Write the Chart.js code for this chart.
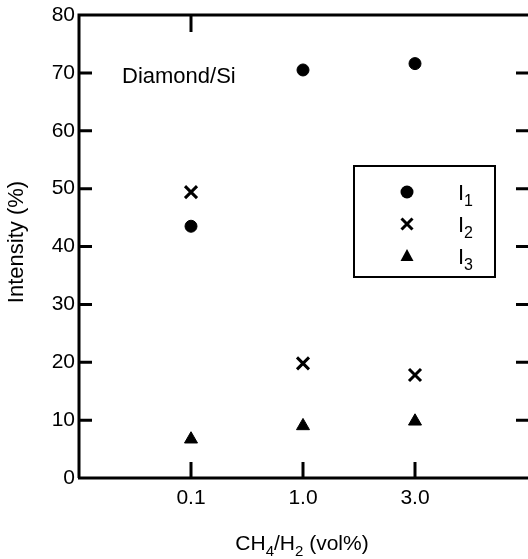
<!DOCTYPE html>
<html>
<head>
<meta charset="utf-8">
<script src="https://cdn.jsdelivr.net/npm/chart.js@4.4.1/dist/chart.umd.min.js"></script>
<style>
  html, body { margin: 0; padding: 0; background: #fff; }
  #wrap { width: 528px; height: 559px; }
</style>
</head>
<body>
<div id="wrap"><canvas id="chart" width="528" height="559"></canvas></div>
<script>
const categories = ['0.1', '1.0', '3.0'];
const i1Values = [43.5, 70.5, 71.6];
const i2Values = [49.4, 19.8, 17.8];
const i3Values = [6.7, 9.0, 9.8];
const yTicks = [0, 10, 20, 30, 40, 50, 60, 70, 80];
const seriesNames = ['1', '2', '3'];

const FONT = '"Liberation Sans", Arial, sans-serif';
const INK = '#000';

function toPoints(values) {
    return values.map((v, i) => ({ x: i + 1, y: v }));
}

// text with subscript parts: [[text, isSub], ...]
function drawRich(ctx, parts, x, y, size, align) {
    const subSize = Math.round(size * 0.72);
    let total = 0;
    parts.forEach(([t, sub]) => {
        ctx.font = (sub ? subSize : size) + 'px ' + FONT;
        total += ctx.measureText(t).width;
    });
    let cx = align === 'center' ? x - total / 2 : x;
    ctx.textAlign = 'left';
    ctx.textBaseline = 'alphabetic';
    parts.forEach(([t, sub]) => {
        ctx.font = (sub ? subSize : size) + 'px ' + FONT;
        ctx.fillText(t, cx, sub ? y + size * 0.28 : y);
        cx += ctx.measureText(t).width;
    });
}

function marker(ctx, style, x, y) {
    ctx.save();
    ctx.fillStyle = INK;
    ctx.strokeStyle = INK;
    if (style === 'circle') {
        ctx.beginPath();
        ctx.arc(x, y, 6.5, 0, Math.PI * 2);
        ctx.fill();
    } else if (style === 'crossRot') {
        ctx.lineWidth = 3;
        ctx.beginPath();
        ctx.moveTo(x - 5.5, y - 5.5); ctx.lineTo(x + 5.5, y + 5.5);
        ctx.moveTo(x + 5.5, y - 5.5); ctx.lineTo(x - 5.5, y + 5.5);
        ctx.stroke();
    } else {
        ctx.beginPath();
        ctx.moveTo(x, y - 7);
        ctx.lineTo(x + 6.5, y + 5);
        ctx.lineTo(x - 6.5, y + 5);
        ctx.closePath();
        ctx.fill();
    }
    ctx.restore();
}

const framePlugin = {
    id: 'frame',
    afterDraw(chart) {
        const { ctx, chartArea: a, scales } = chart;
        const xs = scales.x, ys = scales.y;
        ctx.save();
        ctx.strokeStyle = INK;
        ctx.fillStyle = INK;
        ctx.lineWidth = 3;
        ctx.lineCap = 'butt';

        // frame: left, top, bottom
        ctx.beginPath();
        ctx.moveTo(a.left, a.bottom);
        ctx.lineTo(a.left, a.top);
        ctx.lineTo(chart.width, a.top);
        ctx.moveTo(a.left - 1, a.bottom);
        ctx.lineTo(chart.width, a.bottom);
        ctx.stroke();

        // inward ticks on the y axes
        yTicks.slice(1, -1).forEach(v => {
            const py = ys.getPixelForValue(v);
            ctx.beginPath();
            ctx.moveTo(a.left, py); ctx.lineTo(a.left + 13, py);
            ctx.moveTo(chart.width, py); ctx.lineTo(chart.width - 12, py);
            ctx.stroke();
        });
        // inward ticks on the x axis
        categories.forEach((c, i) => {
            const px = xs.getPixelForValue(i + 1);
            ctx.beginPath();
            ctx.moveTo(px, a.bottom); ctx.lineTo(px, a.bottom - 16);
            ctx.stroke();
        });
        const tx = xs.getPixelForValue(1);
        ctx.beginPath();
        ctx.moveTo(tx, a.top); ctx.lineTo(tx, a.top + 17);
        ctx.stroke();

        // annotation
        ctx.font = '22px ' + FONT;
        ctx.textAlign = 'left';
        ctx.textBaseline = 'alphabetic';
        ctx.fillText('Diamond/Si', 122, 83);

        // axis titles
        drawRich(ctx, [['CH', false], ['4', true], ['/H', false], ['2', true], [' (vol%)', false]], 302, 550, 21, 'center');
        ctx.save();
        ctx.translate(23, 242);
        ctx.rotate(-Math.PI / 2);
        ctx.font = '22px ' + FONT;
        ctx.textAlign = 'center';
        ctx.fillText('Intensity (%)', 0, 0);
        ctx.restore();

        // legend box
        ctx.lineWidth = 2;
        ctx.strokeRect(354, 166, 141, 111);
        const styles = chart.data.datasets.map(d => d.pointStyle);
        const rows = [192, 224, 256];
        styles.forEach((s, i) => {
            marker(ctx, s, 407, rows[i]);
            drawRich(ctx, [['I', false], [seriesNames[i], true]], 458, rows[i] + 8, 22, 'left');
        });
        ctx.restore();
    }
};

const base = {
    showLine: false,
    borderColor: INK,
    backgroundColor: INK,
    pointBorderColor: INK,
    pointBackgroundColor: INK
};

new Chart(document.getElementById('chart'), {
    type: 'scatter',
    data: {
        datasets: [
            Object.assign({}, base, { label: 'I1', data: toPoints(i1Values), pointStyle: 'circle', pointRadius: 6, pointBorderWidth: 1 }),
            Object.assign({}, base, { label: 'I2', data: toPoints(i2Values), pointStyle: 'crossRot', pointRadius: 8.5, pointBorderWidth: 3 }),
            Object.assign({}, base, { label: 'I3', data: toPoints(i3Values), pointStyle: 'triangle', pointRadius: 7.5, pointBorderWidth: 1 })
        ]
    },
    options: {
        responsive: false,
        animation: false,
        events: [],
        layout: { autoPadding: false, padding: { top: 15, right: 1, left: 0, bottom: 0 } },
        plugins: { legend: { display: false }, tooltip: { enabled: false } },
        scales: {
            x: {
                type: 'linear',
                min: 0,
                max: 4,
                afterBuildTicks: s => { s.ticks = categories.map((c, i) => ({ value: i + 1 })); },
                afterFit: s => { s.height = 81; s.paddingLeft = 0; s.paddingRight = 0; },
                grid: { display: false, drawTicks: false },
                border: { display: false },
                ticks: {
                    color: INK,
                    font: { family: FONT, size: 21 },
                    padding: 8,
                    maxRotation: 0,
                    callback: v => categories[v - 1]
                }
            },
            y: {
                min: 0,
                max: 80,
                afterBuildTicks: s => { s.ticks = yTicks.map(v => ({ value: v })); },
                afterFit: s => { s.width = 79; s.paddingTop = 0; s.paddingBottom = 0; },
                grid: { display: false, drawTicks: false },
                border: { display: false },
                ticks: {
                    color: INK,
                    font: { family: FONT, size: 21 },
                    padding: 4
                }
            }
        }
    },
    plugins: [framePlugin]
});
</script>
</body>
</html>
